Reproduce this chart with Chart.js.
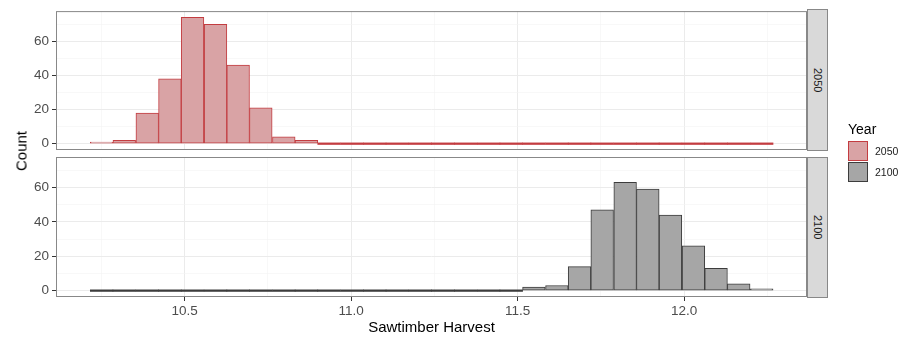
<!DOCTYPE html>
<html lang="en">
<head>
  <meta charset="UTF-8">
  <title>Sawtimber Harvest by Year</title>
  <script src="https://cdn.jsdelivr.net/npm/chart.js"></script>
  <style>
    body {
      margin: 0;
      background: #ffffff;
      font-family: "Liberation Sans", Arial, sans-serif;
    }
    #wrap {
      position: relative;
      width: 903px;
      height: 339px;
      overflow: hidden;
    }
    canvas {
      position: absolute;
      left: 0;
      top: 0;
    }
    .strip {
      position: absolute;
      left: 807px;
      width: 21px;
      background: #d9d9d9;
      border: 1px solid #888;
      box-sizing: border-box;
      writing-mode: vertical-rl;
      display: flex;
      align-items: center;
      justify-content: center;
      font-size: 11px;
      color: #1a1a1a;
    }
    #ytitle {
      position: absolute;
      left: 21px;
      top: 151px;
      transform: translate(-50%, -50%) rotate(-90deg);
      font-size: 15px;
      color: #000;
      white-space: nowrap;
    }
    #legend {
      position: absolute;
      left: 848px;
      top: 121px;
    }
    #legend .title {
      font-size: 14px;
      color: #000;
      margin-bottom: 4px;
    }
    #legend .item {
      display: flex;
      align-items: center;
      height: 20px;
      margin-bottom: 1px;
    }
    #legend .key {
      width: 20px;
      height: 20px;
      box-sizing: border-box;
      border: 1.5px solid;
      margin-right: 7px;
    }
    #legend .lab {
      font-size: 10.5px;
      color: #1a1a1a;
    }
  </style>
</head>
<body>
  <div id="wrap">
    <canvas id="top" width="903" height="339"></canvas>
    <canvas id="bottom" width="903" height="339"></canvas>
    <div class="strip" style="top:9px;height:142px;">2050</div>
    <div class="strip" style="top:157px;height:141px;">2100</div>
    <div id="ytitle">Count</div>
    <div id="legend"></div>
  </div>

  <script>
    // histogram bins (centre of each of the 30 bins)
    const binCenters = [10.251, 10.319, 10.388, 10.456, 10.524, 10.593, 10.661, 10.729, 10.798, 10.866,
                        10.934, 11.003, 11.071, 11.139, 11.208, 11.276, 11.344, 11.413, 11.481, 11.549,
                        11.618, 11.686, 11.754, 11.823, 11.891, 11.959, 12.028, 12.096, 12.164, 12.233];
    const count2050 = [1, 2, 18, 38, 74, 70, 46, 21, 4, 2, 0, 0, 0, 0, 0, 0, 0, 0, 0, 0, 0, 0, 0, 0, 0, 0, 0, 0, 0, 0];
    const count2100 = [0, 0, 0, 0, 0, 0, 0, 0, 0, 0, 0, 0, 0, 0, 0, 0, 0, 0, 0, 2, 3, 14, 47, 63, 59, 44, 26, 13, 4, 1];
    const years = ['2050', '2100'];

    const xTicks = [10.25, 10.5, 10.75, 11.0, 11.25, 11.5, 11.75, 12.0, 12.25];
    const xLabels = ['', '10.5', '', '11.0', '', '11.5', '', '12.0', ''];
    const yTicks = [0, 10, 20, 30, 40, 50, 60, 70];
    const yLabels = ['0', '', '20', '', '40', '', '60', ''];

    const fills = ['#d9a3a5', '#a6a6a6'];
    const lines = ['#c33c40', '#3c3c3c'];

    const gridMajor = '#ebebeb';
    const gridMinor = '#f4f4f4';

    // panel outline drawn around the plot area
    const panelBorder = {
      id: 'panelBorder',
      afterDraw(chart) {
        const a = chart.chartArea;
        const ctx = chart.ctx;
        ctx.save();
        ctx.strokeStyle = '#888';
        ctx.lineWidth = 1;
        ctx.strokeRect(a.left + 0.5, a.top + 0.5, a.right - a.left - 1, a.bottom - a.top - 1);
        ctx.restore();
      }
    };

    function makePanel(id, counts, idx, showX) {
      const ctx = document.getElementById(id).getContext('2d');
      return new Chart(ctx, {
        type: 'bar',
        data: {
          datasets: [{
            label: years[idx],
            data: binCenters.map((x, i) => ({ x: x, y: counts[i] })),
            // empty bins show up as a flat outline along zero
            backgroundColor: c => counts[c.dataIndex] === 0 ? lines[idx] : fills[idx],
            borderColor: lines[idx],
            borderWidth: c => counts[c.dataIndex] === 0 ? 0 : 1,
            borderSkipped: false,
            minBarLength: 1.6,
            barPercentage: 1,
            categoryPercentage: 1
          }]
        },
        options: {
          responsive: false,
          animation: false,
          layout: {
            padding: showX ? { top: 157, bottom: 0, left: 0, right: 96 }
                           : { top: 9, bottom: 189, left: 0, right: 96 }
          },
          plugins: {
            legend: { display: false },
            tooltip: { enabled: false }
          },
          scales: {
            x: {
              type: 'linear',
              offset: false,
              min: 10.114,
              max: 12.369,
              afterBuildTicks: s => { s.ticks = xTicks.map(v => ({ value: v })); },
              afterFit: s => { s.height = showX ? 42 : 0; },
              border: { display: false },
              grid: {
                offset: false,
                color: c => (c.tick && Math.abs(c.tick.value * 2 - Math.round(c.tick.value * 2)) < 1e-6) ? gridMajor : gridMinor,
                lineWidth: c => (c.tick && Math.abs(c.tick.value * 2 - Math.round(c.tick.value * 2)) < 1e-6) ? 1 : 0.6,
                drawTicks: showX,
                tickLength: 4,
                tickWidth: 1,
                tickColor: c => (c.tick && xLabels[c.index] !== '') ? '#333' : 'rgba(0,0,0,0)'
              },
              ticks: {
                display: showX,
                autoSkip: false,
                maxRotation: 0,
                padding: 2,
                color: '#4d4d4d',
                font: { size: 13.5, family: '"Liberation Sans", Arial, sans-serif' },
                callback: (v, i) => xLabels[i]
              },
              title: {
                display: showX,
                text: 'Sawtimber Harvest',
                color: '#000',
                padding: { top: 0, bottom: 2 },
                font: { size: 15, family: '"Liberation Sans", Arial, sans-serif' }
              }
            },
            y: {
              min: -3.7,
              max: 77.7,
              afterBuildTicks: s => { s.ticks = yTicks.map(v => ({ value: v })); },
              afterFit: s => { s.width = 56; },
              border: { display: false },
              grid: {
                color: c => (c.tick && c.tick.value % 20 === 0) ? gridMajor : gridMinor,
                lineWidth: c => (c.tick && c.tick.value % 20 === 0) ? 1 : 0.6,
                tickLength: 4,
                tickWidth: 1,
                tickColor: c => (c.tick && yLabels[c.index] !== '') ? '#333' : 'rgba(0,0,0,0)'
              },
              ticks: {
                autoSkip: false,
                padding: 3,
                color: '#4d4d4d',
                font: { size: 13.5, family: '"Liberation Sans", Arial, sans-serif' },
                callback: (v, i) => yLabels[i]
              }
            }
          }
        },
        plugins: [panelBorder]
      });
    }

    makePanel('top', count2050, 0, false);
    makePanel('bottom', count2100, 1, true);

    // legend for the fill colours
    const legend = document.getElementById('legend');
    legend.innerHTML = '<div class="title">Year</div>' + years.map((y, i) =>
      `<div class="item"><div class="key" style="background:${fills[i]};border-color:${lines[i]}"></div><span class="lab">${y}</span></div>`
    ).join('');
  </script>
</body>
</html>
